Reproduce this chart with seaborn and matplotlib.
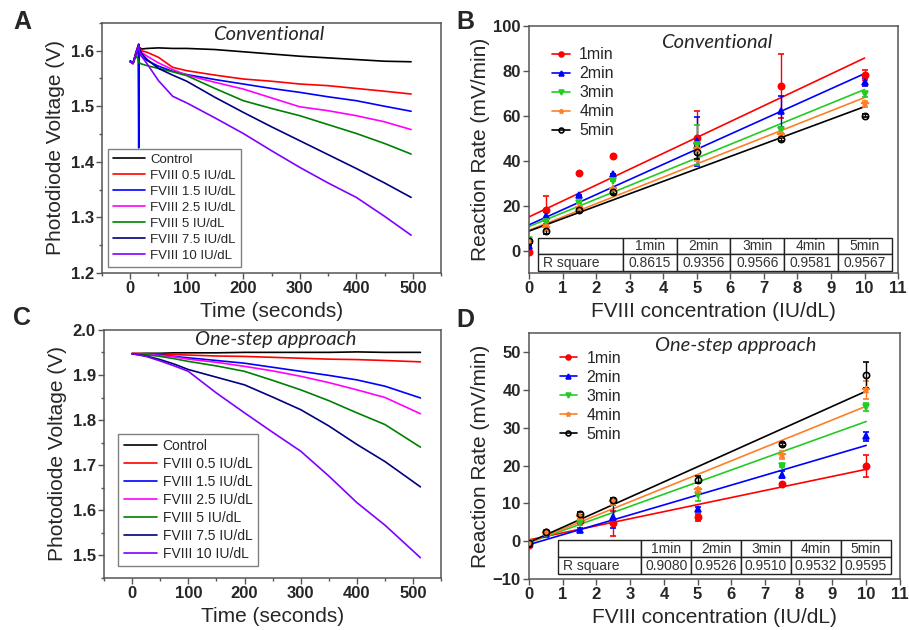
import numpy as np
import pandas as pd
import seaborn as sns
import matplotlib.pyplot as plt
from matplotlib.lines import Line2D
from matplotlib.ticker import MultipleLocator

sns.set_theme(style="ticks")
plt.rcParams['font.family'] = ['Liberation Sans', 'DejaVu Sans']
# tick labels are bold in the original; everything else gets weight="normal" explicitly
plt.rcParams['font.weight'] = 'bold'
plt.rcParams['xtick.labelsize'] = 12
plt.rcParams['ytick.labelsize'] = 12

# ---- panel A / C : photodiode traces ----
curve_labels = ["Control", "FVIII 0.5 IU/dL", "FVIII 1.5 IU/dL", "FVIII 2.5 IU/dL",
                "FVIII 5 IU/dL", "FVIII 7.5 IU/dL", "FVIII 10 IU/dL"]
curve_colors = ["#000000", "#ff0000", "#0000ff", "#ff00ff", "#008000", "#000080", "#8000ff"]

time_a = [0, 5, 10, 14, 15, 16, 20, 30, 50, 75, 100, 150, 200, 250, 300, 350, 400, 450, 497]
a_control = [1.580, 1.578, 1.595, 1.608, 1.610, 1.606, 1.603, 1.604, 1.605, 1.604, 1.604, 1.602, 1.598, 1.594, 1.590, 1.587, 1.584, 1.581, 1.580]
a_05 = [1.580, 1.576, 1.598, 1.606, 1.608, 1.605, 1.600, 1.597, 1.588, 1.570, 1.564, 1.556, 1.549, 1.545, 1.540, 1.537, 1.532, 1.527, 1.522]
a_15 = [1.582, 1.578, 1.592, 1.605, 1.425, 1.600, 1.590, 1.582, 1.572, 1.563, 1.557, 1.548, 1.540, 1.532, 1.525, 1.517, 1.510, 1.500, 1.491]
a_25 = [1.580, 1.577, 1.595, 1.606, 1.608, 1.604, 1.597, 1.590, 1.578, 1.566, 1.556, 1.543, 1.531, 1.515, 1.499, 1.492, 1.483, 1.472, 1.458]
a_5 = [1.580, 1.577, 1.590, 1.585, 1.580, 1.578, 1.576, 1.573, 1.568, 1.562, 1.555, 1.532, 1.510, 1.496, 1.483, 1.467, 1.451, 1.433, 1.414]
a_75 = [1.580, 1.578, 1.595, 1.610, 1.612, 1.605, 1.595, 1.584, 1.568, 1.556, 1.545, 1.516, 1.489, 1.463, 1.438, 1.413, 1.388, 1.362, 1.336]
a_10 = [1.580, 1.578, 1.595, 1.608, 1.610, 1.600, 1.590, 1.576, 1.546, 1.518, 1.506, 1.479, 1.451, 1.420, 1.390, 1.362, 1.336, 1.302, 1.268]

time_c = [0, 25, 50, 75, 100, 150, 200, 250, 300, 350, 400, 450, 513]
c_control = [1.947, 1.948, 1.948, 1.949, 1.949, 1.949, 1.950, 1.950, 1.950, 1.950, 1.951, 1.950, 1.950]
c_05 = [1.948, 1.947, 1.946, 1.945, 1.944, 1.942, 1.941, 1.939, 1.937, 1.935, 1.934, 1.932, 1.929]
c_15 = [1.947, 1.946, 1.944, 1.941, 1.938, 1.932, 1.926, 1.917, 1.908, 1.899, 1.889, 1.875, 1.849]
c_25 = [1.947, 1.946, 1.943, 1.940, 1.935, 1.928, 1.919, 1.909, 1.897, 1.883, 1.867, 1.850, 1.814]
c_5 = [1.947, 1.945, 1.941, 1.936, 1.930, 1.920, 1.908, 1.888, 1.867, 1.843, 1.816, 1.790, 1.740]
c_75 = [1.947, 1.942, 1.934, 1.924, 1.912, 1.895, 1.878, 1.851, 1.823, 1.787, 1.746, 1.708, 1.652]
c_10 = [1.947, 1.941, 1.931, 1.920, 1.908, 1.860, 1.816, 1.773, 1.731, 1.676, 1.617, 1.567, 1.495]

# ---- panel B / D : reaction rates ----
conc = [0, 0.5, 1.5, 2.5, 5, 7.5, 10]
rate_labels = ["1min", "2min", "3min", "4min", "5min"]
rate_colors = ["#ff0000", "#0000ff", "#22cc22", "#ff7f27", "#000000"]
rate_markers = ["o", "^", "v", "*", "o"]

b_1min = [-0.6, 18.2, 34.5, 42.2, 50.1, 73.3, 78.2]
b_2min = [1.9, 15.3, 24.9, 34.2, 48.6, 62.0, 75.0]
b_3min = [4.6, 12.6, 21.2, 31.1, 47.0, 53.5, 69.6]
b_4min = [4.4, 10.0, 19.0, 27.6, 45.0, 51.5, 65.3]
b_5min = [4.3, 8.9, 17.9, 25.9, 43.7, 49.5, 60.1]
b_1min_err = [0, 6.3, 0, 0, 12.0, 14.1, 2.2]
b_2min_err = [0, 2.0, 0, 0, 10.8, 7.0, 1.8]
b_3min_err = [0, 1.5, 0, 0, 9.0, 1.0, 1.0]
b_4min_err = [0, 1.5, 0, 0, 5.0, 1.0, 1.5]
b_5min_err = [0, 1.5, 0.5, 0.5, 3.0, 0.5, 0.5]
b_r2 = ["0.8615", "0.9356", "0.9566", "0.9581", "0.9567"]

d_1min = [-0.9, 2.5, 5.3, 4.7, 6.3, 15.0, 19.9]
d_2min = [-0.8, 2.0, 2.9, 6.5, 8.5, 17.6, 27.8]
d_3min = [-0.6, 2.0, 4.8, 10.0, 12.2, 19.9, 35.5]
d_4min = [-0.6, 2.2, 6.4, 10.4, 13.5, 22.8, 40.0]
d_5min = [-0.4, 2.3, 7.3, 10.8, 16.3, 25.6, 43.9]
d_1min_err = [0.5, 0.5, 0.5, 3.3, 1.0, 0.5, 3.0]
d_2min_err = [0.3, 0.3, 0.5, 3.0, 0.5, 1.0, 1.2]
d_3min_err = [0.3, 0.3, 0.5, 0.5, 1.5, 0.3, 1.0]
d_4min_err = [0.3, 0.3, 0.5, 0.5, 0.5, 1.0, 2.5]
d_5min_err = [0.3, 0.3, 0.3, 0.5, 1.0, 0.3, 3.5]
d_r2 = ["0.9080", "0.9526", "0.9510", "0.9532", "0.9595"]

fig = plt.figure(figsize=(9.09, 6.3), dpi=100)
ax_a = fig.add_axes([0.1122, 0.5667, 0.373, 0.397])
ax_b = fig.add_axes([0.582, 0.5667, 0.406, 0.392])
ax_c = fig.add_axes([0.1144, 0.0825, 0.371, 0.394])
ax_d = fig.add_axes([0.582, 0.081, 0.408, 0.390])


def style_axes(ax):
    for s in ax.spines.values():
        s.set_color("#555555")
        s.set_linewidth(1.1)
    ax.tick_params(axis="both", which="major", length=4, width=1, color="#555555", pad=2)
    ax.tick_params(axis="both", which="minor", length=2.5, width=1, color="#555555")


def trace_panel(ax, t, curves, ylim, yticks, title, title_xy, leg_anchor, leg_fs):
    for vals, lab, col in zip(curves, curve_labels, curve_colors):
        sns.lineplot(x=t, y=vals, ax=ax, color=col, label=lab, linewidth=1.2)
    ax.set_xlim(-50, 550)
    ax.set_ylim(*ylim)
    ax.set_xticks([0, 100, 200, 300, 400, 500])
    ax.set_yticks(yticks)
    ax.xaxis.set_minor_locator(MultipleLocator(50))
    ax.yaxis.set_minor_locator(MultipleLocator(0.05))
    style_axes(ax)
    ax.set_xlabel("Time (seconds)", fontsize=15, fontweight="normal", labelpad=4)
    ax.set_ylabel("Photodiode Voltage (V)", fontsize=15, fontweight="normal", labelpad=4)
    ax.text(*title_xy, title, transform=ax.transAxes, ha="center", va="center",
            fontsize=14.5, style="italic", family="Lato", fontweight="normal")
    leg = ax.legend(loc="lower left", bbox_to_anchor=leg_anchor, borderaxespad=0,
                    prop={"size": leg_fs, "weight": "normal"}, handlelength=2.4,
                    labelspacing=0.28, handletextpad=0.4, borderpad=0.4,
                    fancybox=False, framealpha=1)
    leg.get_frame().set_edgecolor("#808080")
    leg.get_frame().set_linewidth(1.0)


def rate_panel(ax, series, errs, r2, ylim, yticks, title, title_xy, leg_anchor, tbl_box, col_w):
    xfit = np.array([0, 10])
    for vals, col in zip(series, rate_colors):
        k, b = np.polyfit(conc, vals, 1)
        sns.lineplot(x=xfit, y=b + k * xfit, ax=ax, color=col, linewidth=1.2)
    for vals, err, col, mk in zip(series, errs, rate_colors, rate_markers):
        face = "none" if col == "#000000" else col
        ax.errorbar(conc, vals, yerr=err, fmt=mk, color=col, mfc=face, mec=col,
                    ms=4.5 if mk != "*" else 5.5, mew=1.2, capsize=2, elinewidth=1,
                    capthick=1, zorder=4)
    ax.set_xlim(0, 11)
    ax.set_ylim(*ylim)
    ax.set_xticks(range(0, 12))
    ax.set_yticks(yticks)
    style_axes(ax)
    ax.set_xlabel("FVIII concentration (IU/dL)", fontsize=15, fontweight="normal", labelpad=4)
    ax.set_ylabel("Reaction Rate (mV/min)", fontsize=15, fontweight="normal", labelpad=2)
    ax.text(*title_xy, title, transform=ax.transAxes, ha="center", va="center",
            fontsize=14.5, style="italic", family="Lato", fontweight="normal")
    handles = [Line2D([], [], color=c, marker=m, ms=3.5, mfc="none" if c == "#000000" else c,
                      mew=1.2, linewidth=1.2)
               for c, m in zip(rate_colors, rate_markers)]
    ax.legend(handles, rate_labels, loc="upper left", bbox_to_anchor=leg_anchor,
              frameon=False, prop={"size": 11.5, "weight": "normal"}, handlelength=1.1,
              handletextpad=0.6, labelspacing=0.25, borderaxespad=0)
    tbl = ax.table(cellText=[[""] + rate_labels, ["R square"] + r2],
                   bbox=tbl_box, colWidths=col_w, cellLoc="center", zorder=5)
    tbl.auto_set_font_size(False)
    for (r, c), cell in tbl.get_celld().items():
        cell.set_linewidth(1.0)
        cell.set_edgecolor("#222222")
        cell.get_text().set_fontsize(10)
        cell.get_text().set_fontweight("normal")
        cell.get_text().set_color("#333333")
        if c == 0:
            cell.get_text().set_ha("left")
            cell.PAD = 0.06


trace_panel(ax_a, time_a, [a_control, a_05, a_15, a_25, a_5, a_75, a_10],
            (1.2, 1.65), [1.2, 1.3, 1.4, 1.5, 1.6], "Conventional", (0.491, 0.952),
            (0.018, 0.024), 9.5)
trace_panel(ax_c, time_c, [c_control, c_05, c_15, c_25, c_5, c_75, c_10],
            (1.45, 2.0), [1.5, 1.6, 1.7, 1.8, 1.9, 2.0], "One-step approach", (0.51, 0.962),
            (0.042, 0.048), 10)

rate_panel(ax_b, [b_1min, b_2min, b_3min, b_4min, b_5min],
           [b_1min_err, b_2min_err, b_3min_err, b_4min_err, b_5min_err], b_r2,
           (-10, 100), [0, 20, 40, 60, 80, 100], "Conventional", (0.507, 0.932),
           (0.045, 0.94), [0.024, 0.008, 0.959, 0.134], [0.24] + [0.152] * 5)
rate_panel(ax_d, [d_1min, d_2min, d_3min, d_4min, d_5min],
           [d_1min_err, d_2min_err, d_3min_err, d_4min_err, d_5min_err], d_r2,
           (-10, 55), [-10, 0, 10, 20, 30, 40, 50], "One-step approach", (0.558, 0.951),
           (0.065, 0.955), [0.078, 0.02, 0.898, 0.138], [0.25] + [0.15] * 5)

for lab, (x, y) in zip("ABCD", [(22, 22), (465, 22), (22, 318), (465, 320)]):
    fig.text(x / 909, 1 - y / 630, lab, fontsize=18, fontweight="bold",
             ha="center", va="center")

fig.savefig("out.png", dpi=100)
